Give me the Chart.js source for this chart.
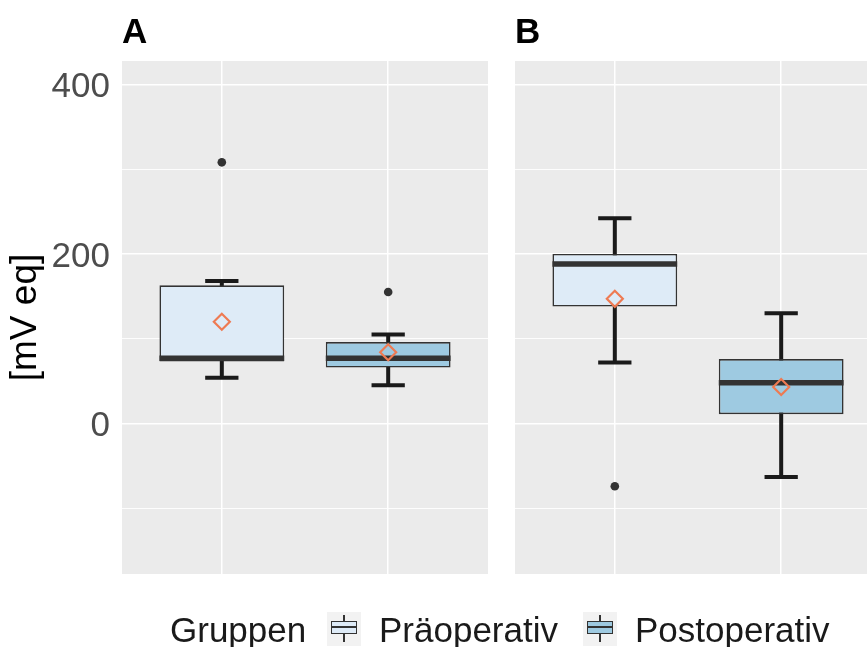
<!DOCTYPE html>
<html>
<head>
<meta charset="utf-8">
<script src="https://cdn.jsdelivr.net/npm/chart.js@4.4.1/dist/chart.umd.min.js"></script>
<style>
  html, body { margin: 0; padding: 0; background: #fff; overflow: hidden; }
  #wrap { position: relative; width: 867px; height: 647px; overflow: hidden; background: #fff;
          font-family: "Liberation Sans", Arial, sans-serif; }
  #cA { position: absolute; left: 0; top: 0; }
  #cB { position: absolute; left: 515px; top: 0; }
  .leg { position: absolute; top: 612px; font-size: 35px; line-height: 35px; color: #1a1a1a; white-space: nowrap; }
  .key { position: absolute; top: 612px; width: 34px; height: 34px; background: #f2f2f2; }
  .key .wh { position: absolute; left: 16.4px; top: 3px; width: 1.3px; height: 27px; background: #333; }
  .key .bx { position: absolute; left: 4px; top: 8.5px; width: 26px; height: 13.5px; box-sizing: border-box; border: 1.3px solid #333; }
  .key .md { position: absolute; left: 4px; top: 14.4px; width: 26px; height: 1.8px; background: #333; }
</style>
</head>
<body>
<div id="wrap">
  <canvas id="cA" width="488" height="614"></canvas>
  <canvas id="cB" width="366" height="614"></canvas>
  <div id="legend"></div>
</div>
<script>
// Groups and their positions on the discrete x axis
const groups = ['Präoperativ', 'Postoperativ'];
const groupX = [1, 2];
const groupFill = ['#DEEBF7', '#9ECAE1'];
const panelTags = ['A', 'B'];
const legendTitle = 'Gruppen';
const yAxisTitle = '[mV eq]';

// y axis ticks (gridlines every 100, labels every 200)
const yTickValues = [-100, 0, 100, 200, 300, 400];
const yTickLabels = ['', '0', '', '200', '', '400'];
const yRange = [-177.5, 427.5];
const xRange = [0.4, 2.6];

// Panel A: box statistics per group
const aLower = [54, 45];
const aQ1 = [73, 66];
const aMedian = [77, 77];
const aQ3 = [163, 96];
const aUpper = [168, 105];
const aMean = [120, 84];
const aOutliers = [[308], [155]];

// Panel B: box statistics per group
const bLower = [72, -63];
const bQ1 = [138, 11];
const bMedian = [188, 48];
const bQ3 = [200, 76];
const bUpper = [242, 130];
const bMean = [147, 43];
const bOutliers = [[-74], []];

const FONT = '"Liberation Sans", Arial, sans-serif';
const BOX_WIDTH = 0.75;
const CAP_WIDTH = 0.2;

function boxDatasets(lower, q1, median, q3, upper, mean, outliers) {
  const whiskers = [], medians = [], outs = [], means = [];
  groupX.forEach((x, i) => {
    whiskers.push(
      { x: x, y: lower[i] }, { x: x, y: upper[i] }, { x: x, y: null },
      { x: x - CAP_WIDTH / 2, y: upper[i] }, { x: x + CAP_WIDTH / 2, y: upper[i] }, { x: x, y: null },
      { x: x - CAP_WIDTH / 2, y: lower[i] }, { x: x + CAP_WIDTH / 2, y: lower[i] }, { x: x, y: null }
    );
    medians.push({ x: x - BOX_WIDTH / 2, y: median[i] }, { x: x + BOX_WIDTH / 2, y: median[i] }, { x: x, y: null });
    outliers[i].forEach(v => outs.push({ x: x, y: v }));
    means.push({ x: x, y: mean[i] });
  });
  return [
    { type: 'line', data: whiskers, borderColor: '#1a1a1a', borderWidth: 4, pointRadius: 0,
      borderCapStyle: 'butt', spanGaps: false, tension: 0, order: 4 },
    { type: 'bar', data: groupX.map((x, i) => ({ x: x, y: [q1[i], q3[i]] })),
      backgroundColor: groupFill, borderColor: '#333333', borderWidth: 1.6, borderSkipped: false,
      categoryPercentage: 1, barPercentage: BOX_WIDTH, order: 3 },
    { type: 'line', data: medians, borderColor: '#333333', borderWidth: 5.5, pointRadius: 0,
      borderCapStyle: 'butt', spanGaps: false, order: 2 },
    { type: 'scatter', data: outs, pointRadius: 4.3, backgroundColor: '#333333', borderWidth: 0, order: 1 },
    { type: 'scatter', data: means, pointStyle: 'rectRot', pointRadius: 8, borderWidth: 2.2,
      borderColor: '#EE7A52', backgroundColor: 'rgba(0,0,0,0)', order: 0 }
  ];
}

// grey panel background
const panelBg = {
  id: 'panelBg',
  beforeDraw(chart) {
    const { ctx, chartArea: a } = chart;
    ctx.save();
    ctx.fillStyle = '#EBEBEB';
    ctx.fillRect(a.left, a.top, a.right - a.left, a.bottom - a.top);
    ctx.restore();
  }
};

// bold panel letter above the panel's left edge
const panelTag = {
  id: 'panelTag',
  afterDraw(chart, args, opts) {
    const ctx = chart.ctx;
    ctx.save();
    ctx.font = 'bold 35px ' + FONT;
    ctx.fillStyle = '#000';
    ctx.textAlign = 'left';
    ctx.textBaseline = 'alphabetic';
    ctx.fillText(opts.text, chart.chartArea.left, 43);
    ctx.restore();
  }
};

function makeChart(canvasId, tag, showY, datasets) {
  return new Chart(document.getElementById(canvasId), {
    type: 'bar',
    data: { datasets: datasets },
    plugins: [panelBg, panelTag],
    options: {
      responsive: false,
      animation: false,
      events: [],
      layout: { autoPadding: false, padding: { top: 61, bottom: 40, left: 0, right: 0 } },
      plugins: {
        legend: { display: false },
        tooltip: { enabled: false },
        panelTag: { text: tag }
      },
      scales: {
        x: {
          type: 'linear', min: xRange[0], max: xRange[1], offset: false,
          afterBuildTicks: s => { s.ticks = groupX.map(v => ({ value: v })); },
          ticks: { display: false },
          grid: { color: '#ffffff', lineWidth: 1.5, drawTicks: false, offset: false },
          border: { display: false },
          afterFit: s => { s.height = 0; }
        },
        y: {
          type: 'linear', min: yRange[0], max: yRange[1],
          afterBuildTicks: s => { s.ticks = yTickValues.map(v => ({ value: v })); },
          ticks: {
            display: showY, autoSkip: false, padding: 12, labelOffset: 3, color: '#4D4D4D',
            font: { family: FONT, size: 35 },
            callback: v => yTickLabels[yTickValues.indexOf(v)]
          },
          grid: {
            color: '#ffffff', drawTicks: false,
            lineWidth: c => (c.tick && c.tick.value % 200 === 0) ? 1.5 : 0.9
          },
          border: { display: false },
          title: {
            display: showY, text: yAxisTitle, color: '#000',
            font: { family: FONT, size: 37 }, padding: { top: 4, bottom: 0 }
          },
          afterFit: s => { s.width = showY ? 122 : 0; }
        }
      }
    }
  });
}

makeChart('cA', panelTags[0], true, boxDatasets(aLower, aQ1, aMedian, aQ3, aUpper, aMean, aOutliers));
makeChart('cB', panelTags[1], false, boxDatasets(bLower, bQ1, bMedian, bQ3, bUpper, bMean, bOutliers));

// legend: title, then a key and a label per group
const legend = document.getElementById('legend');
const legendTitleX = 170;
const keyX = [327, 583];
const labelX = [379, 635];
function addEl(cls, left, text) {
  const d = document.createElement('div');
  d.className = cls;
  d.style.left = left + 'px';
  if (text !== undefined) d.textContent = text;
  legend.appendChild(d);
  return d;
}
addEl('leg', legendTitleX, legendTitle);
groups.forEach((g, i) => {
  const k = addEl('key', keyX[i]);
  const wh = document.createElement('div'); wh.className = 'wh'; k.appendChild(wh);
  const bx = document.createElement('div'); bx.className = 'bx'; bx.style.background = groupFill[i]; k.appendChild(bx);
  const md = document.createElement('div'); md.className = 'md'; k.appendChild(md);
  addEl('leg', labelX[i], g);
});
</script>
</body>
</html>
